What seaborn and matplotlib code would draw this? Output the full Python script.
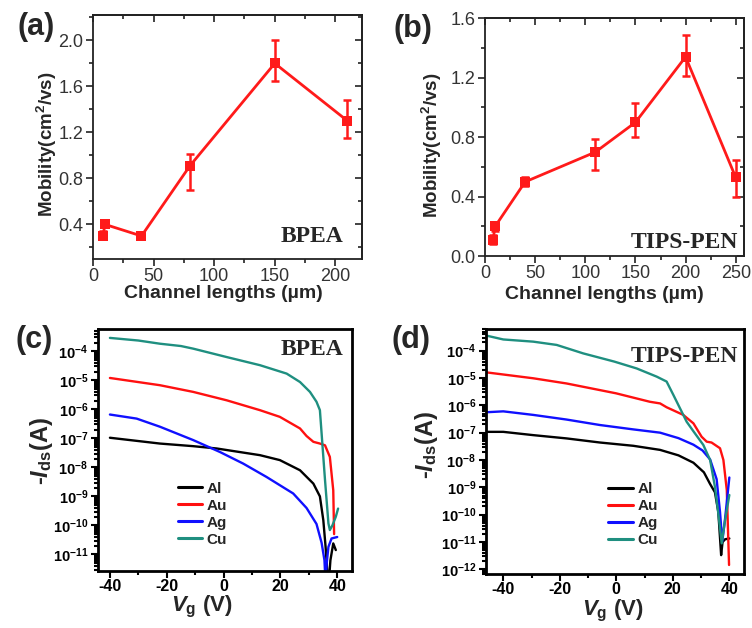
import numpy as np
import pandas as pd
import matplotlib
matplotlib.use('Agg')
import matplotlib.pyplot as plt
import seaborn as sns
from matplotlib.ticker import MultipleLocator, LogLocator, NullFormatter

# (a) BPEA mobility vs channel length
len_a = [8, 10, 40, 80, 150, 210]
mob_a = [0.30, 0.40, 0.30, 0.91, 1.80, 1.30]
err_lo_a = [0.03, 0.02, 0.02, 0.21, 0.15, 0.15]
err_hi_a = [0.04, 0.02, 0.02, 0.10, 0.20, 0.18]

# (b) TIPS-PEN mobility vs channel length
len_b = [8, 10, 40, 110, 150, 200, 250]
mob_b = [0.11, 0.20, 0.50, 0.70, 0.90, 1.34, 0.53]
err_lo_b = [0.03, 0.03, 0.03, 0.12, 0.10, 0.13, 0.13]
err_hi_b = [0.03, 0.03, 0.03, 0.09, 0.13, 0.15, 0.12]

# (c) BPEA transfer curves, log10(-Ids)
metals = ['Al', 'Au', 'Ag', 'Cu']
colors = {'Al': '#000000', 'Au': '#ff1010', 'Ag': '#1010ff', 'Cu': '#1f8f80'}

vg_c = {
    'Al': [-40, -22.4, -10.7, -2.4, 12.8, 19.8, 26.9, 31.6, 33.9, 35.1, 35.9, 36.5, 37.0, 37.6, 38.6, 39.5],
    'Au': [-40, -22.4, -10.7, 1.1, 12.8, 19.8, 26.9, 29.2, 31.6, 33.9, 35.7, 37.4, 38.6, 38.9],
    'Ag': [-40, -30.6, -22.4, -10.7, -1.3, 6.9, 15.1, 24.5, 29.2, 32.7, 34.5, 35.5, 35.9, 36.3, 36.9, 38.0, 40.0],
    'Cu': [-40, -30, -22.4, -15, -10.7, 1.1, 12.8, 22.2, 26.9, 30.4, 32.7, 33.9, 35.7, 36.9, 37.4, 38.3, 39.5, 40.3],
}
logi_c = {
    'Al': [-6.98, -7.18, -7.27, -7.35, -7.58, -7.75, -8.1, -8.56, -9.0, -9.82, -10.74, -11.6, -12.0, -11.2, -10.62, -10.85],
    'Au': [-4.92, -5.17, -5.4, -5.69, -6.03, -6.26, -6.66, -6.92, -7.12, -7.18, -7.24, -7.64, -8.79, -10.3],
    'Ag': [-6.18, -6.32, -6.6, -7.06, -7.47, -7.87, -8.33, -8.9, -9.4, -9.95, -10.6, -11.2, -12.0, -11.3, -10.74, -10.45, -10.4],
    'Cu': [-3.54, -3.63, -3.74, -3.82, -3.91, -4.2, -4.48, -4.77, -5.06, -5.4, -5.74, -6.03, -8.44, -9.93, -10.16, -10.0, -9.7, -9.42],
}

# (d) TIPS-PEN transfer curves, log10(-Ids)
vg_d = {
    'Al': [-45.5, -40, -29.4, -17.6, -5.8, 6.0, 15.5, 22.0, 27.3, 31.0, 33.2, 34.9, 36.1, 37.1, 37.6, 38.5, 40],
    'Au': [-45.5, -29.4, -17.6, -0.1, 11.9, 15.5, 17.8, 23.7, 27.3, 30.2, 32.0, 33.7, 36.7, 37.9, 39.1, 39.9],
    'Ag': [-45.5, -40, -29.4, -17.6, -5.8, 6.0, 15.5, 22.0, 27.3, 30.5, 33.2, 35.5, 36.7, 37.5, 38.5, 40],
    'Cu': [-45.5, -40, -29.4, -21.1, -11.7, -0.7, 7.2, 14.3, 17.8, 20.2, 22.5, 24.9, 27.3, 30.8, 33.2, 34.9, 36.1, 37.3, 38.5, 40],
}
logi_d = {
    'Al': [-6.97, -6.97, -7.09, -7.21, -7.36, -7.48, -7.63, -7.83, -8.1, -8.45, -8.88, -9.18, -9.9, -11.48, -11.0, -10.9, -10.87],
    'Au': [-4.8, -5.01, -5.2, -5.56, -5.87, -5.93, -6.07, -6.35, -6.66, -7.15, -7.33, -7.36, -7.57, -8.0, -9.1, -11.84],
    'Ag': [-6.25, -6.22, -6.35, -6.52, -6.72, -6.88, -7.0, -7.2, -7.44, -7.65, -7.98, -8.7, -9.9, -10.98, -10.14, -8.64],
    'Cu': [-3.46, -3.59, -3.67, -3.79, -4.1, -4.4, -4.65, -4.95, -5.13, -5.62, -6.1, -6.6, -6.95, -7.45, -8.0, -8.98, -9.95, -11.05, -10.2, -9.28],
}

sns.set_theme(style='ticks')
plt.rcParams['font.family'] = ['Liberation Sans', 'DejaVu Sans']
plt.rcParams['axes.unicode_minus'] = False
plt.rcParams['mathtext.fontset'] = 'custom'
plt.rcParams['mathtext.rm'] = 'Liberation Sans:bold'
plt.rcParams['mathtext.bf'] = 'Liberation Sans:bold'
plt.rcParams['mathtext.it'] = 'Liberation Sans:bold:italic'

fig = plt.figure(figsize=(7.52, 6.28), dpi=100)
ax_a = fig.add_axes([0.1237, 0.5876, 0.3577, 0.3885])
ax_b = fig.add_axes([0.645, 0.592, 0.344, 0.379])
ax_c = fig.add_axes([0.1303, 0.0908, 0.3378, 0.385])
ax_d = fig.add_axes([0.6463, 0.086, 0.3431, 0.390])


def mobility_panel(ax, x, y, lo, hi, xlim, ylim, xmaj, xmin, ymaj, ymin, name, name_xy):
    df = pd.DataFrame({'L': x, 'mu': y})
    ax.errorbar(x, y, yerr=[lo, hi], fmt='none', ecolor='#ff1a1a', elinewidth=1.8,
                capsize=3, capthick=1.8, zorder=2)
    sns.lineplot(data=df, x='L', y='mu', ax=ax, color='#ff1a1a', lw=2, marker='s',
                 markersize=7, markeredgewidth=0, sort=False, estimator=None, zorder=3)
    ax.set_xlim(*xlim)
    ax.set_ylim(*ylim)
    ax.xaxis.set_major_locator(MultipleLocator(xmaj))
    ax.xaxis.set_minor_locator(MultipleLocator(xmin))
    ax.yaxis.set_major_locator(MultipleLocator(ymaj))
    ax.yaxis.set_minor_locator(MultipleLocator(ymin))
    ax.tick_params(which='both', direction='out', width=1.2, colors='#222222',
                   labelsize=13, labelcolor='#333333')
    ax.tick_params(which='major', length=5)
    ax.tick_params(which='minor', length=3)
    ax.tick_params(axis='x', pad=1.5)
    ax.tick_params(axis='y', pad=2)
    for s in ax.spines.values():
        s.set_linewidth(1.3)
        s.set_color('#222222')
    for side in ['top', 'right']:
        if side == 'top':
            sec = ax.secondary_xaxis('top')
            sec.xaxis.set_major_locator(MultipleLocator(xmaj))
            sec.xaxis.set_minor_locator(MultipleLocator(xmin))
        else:
            sec = ax.secondary_yaxis('right')
            sec.yaxis.set_major_locator(MultipleLocator(ymaj))
            sec.yaxis.set_minor_locator(MultipleLocator(ymin))
        sec.tick_params(which='both', direction='in', width=1.2, colors='#222222',
                        labeltop=False, labelright=False)
        sec.tick_params(which='major', length=5)
        sec.tick_params(which='minor', length=3)
        sec.spines[side].set_linewidth(1.3)
    ax.set_xlabel('Channel lengths (µm)', fontsize=14, fontweight='bold')
    ax.set_ylabel('Mobility(cm$^{2}$/vs)', fontsize=13.5, fontweight='bold')
    ax.text(name_xy[0], name_xy[1], name, transform=ax.transAxes, ha='right',
            va='baseline', fontsize=17, fontweight='bold', family='Liberation Serif')


mobility_panel(ax_a, len_a, mob_a, err_lo_a, err_hi_a, (0, 222), (0.1, 2.22),
               50, 25, 0.4, 0.2, 'BPEA', (0.93, 0.07))
mobility_panel(ax_b, len_b, mob_b, err_lo_b, err_hi_b, (0, 258), (0, 1.6),
               50, 25, 0.4, 0.2, 'TIPS-PEN', (0.977, 0.035))
ax_a.yaxis.set_label_coords(-0.125, 0.47)
ax_a.xaxis.set_label_coords(0.484, -0.105)
ax_b.yaxis.set_label_coords(-0.16, 0.466)
ax_b.xaxis.set_label_coords(0.461, -0.125)


def transfer_panel(ax, vg, logi, xlim, ylog, name, name_xy, leg_xy):
    rows = []
    for m in metals:
        for v, li in zip(vg[m], logi[m]):
            rows.append((m, v, 10 ** li))
    df = pd.DataFrame(rows, columns=['metal', 'Vg', 'Ids'])
    ax.set_yscale('log')
    sns.lineplot(data=df, x='Vg', y='Ids', hue='metal', hue_order=metals, palette=colors,
                 estimator=None, sort=False, lw=1.7, ax=ax)
    ax.set_xlim(*xlim)
    ax.set_ylim(10 ** ylog[0], 10 ** ylog[1])
    ax.xaxis.set_major_locator(MultipleLocator(20))
    ax.xaxis.set_minor_locator(MultipleLocator(10))
    ax.yaxis.set_major_locator(LogLocator(base=10, numticks=20))
    ax.yaxis.set_minor_locator(LogLocator(base=10, subs=np.arange(2, 10), numticks=20))
    ax.yaxis.set_minor_formatter(NullFormatter())
    ax.tick_params(which='both', direction='out', width=1.5, colors='black')
    ax.tick_params(which='major', length=5)
    ax.tick_params(which='minor', length=3)
    ax.tick_params(axis='y', labelsize=10.5, pad=2)
    ax.tick_params(axis='x', labelsize=11.5, pad=1)
    for lab in ax.get_xticklabels() + ax.get_yticklabels():
        lab.set_fontweight('bold')
    for s in ax.spines.values():
        s.set_linewidth(2)
        s.set_color('black')
    ax.set_xlabel('$V_{\\rm g}$ (V)', fontsize=16, fontweight='bold')
    ax.set_ylabel('-$I_{\\rm ds}$(A)', fontsize=17, fontweight='bold')
    ax.text(name_xy[0], name_xy[1], name, transform=ax.transAxes, ha='right',
            va='baseline', fontsize=17, fontweight='bold', family='Liberation Serif')
    leg = ax.legend(loc='upper left', bbox_to_anchor=leg_xy, frameon=False, handlelength=1.6,
                    handletextpad=0.3, labelspacing=0.2, borderaxespad=0,
                    prop={'weight': 'bold', 'size': 11})
    for h in leg.get_lines():
        h.set_linewidth(2.2)


transfer_panel(ax_c, vg_c, logi_c, (-44.2, 45.2), (-11.57, -3.24), 'BPEA', (0.965, 0.893),
               (0.29, 0.395))
transfer_panel(ax_d, vg_d, logi_d, (-46.1, 45.2), (-12.17, -3.21), 'TIPS-PEN', (0.977, 0.865),
               (0.45, 0.40))
ax_c.yaxis.set_label_coords(-0.17, 0.496)
ax_c.xaxis.set_label_coords(0.41, -0.096)
ax_d.yaxis.set_label_coords(-0.178, 0.527)
ax_d.xaxis.set_label_coords(0.49, -0.096)

for lbl, (x, y) in zip(['(a)', '(b)', '(c)', '(d)'],
                       [(0.048, 0.957), (0.549, 0.954), (0.045, 0.459), (0.547, 0.459)]):
    fig.text(x, y, lbl, ha='center', va='center', fontsize=22, fontweight='bold')

fig.savefig('out.png', dpi=100)
